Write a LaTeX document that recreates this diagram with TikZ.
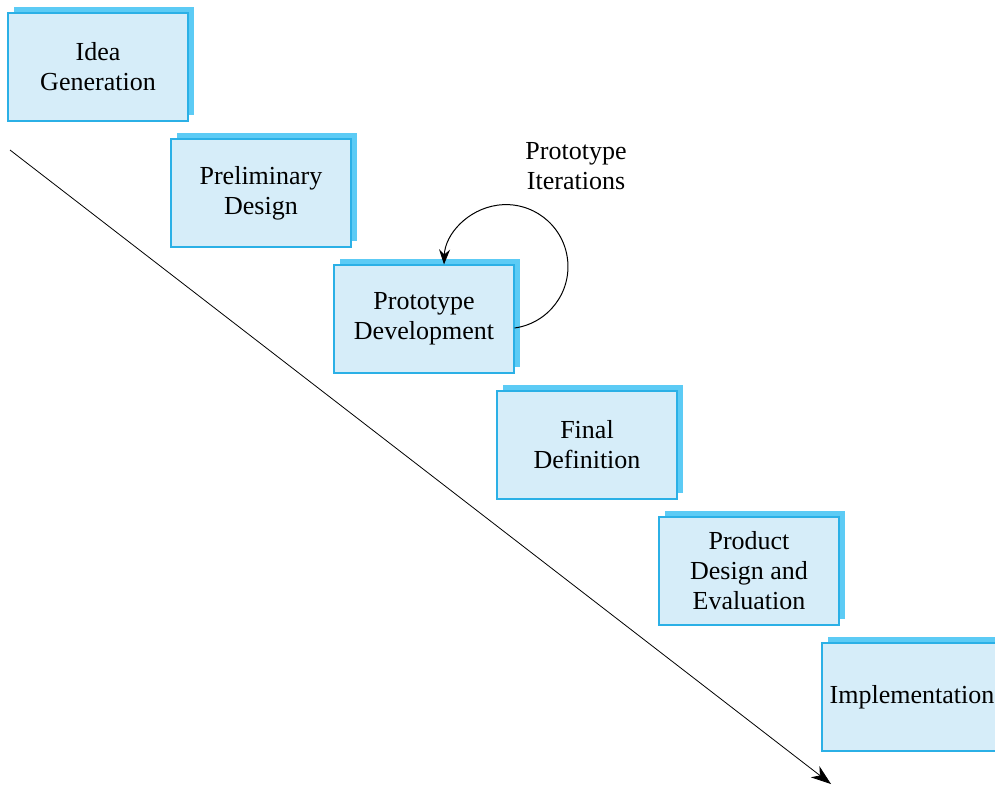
\documentclass[tikz,border=0pt]{standalone}
\usepackage{fontspec}
\setmainfont{Liberation Serif}
\usetikzlibrary{arrows.meta,shadows}
\definecolor{boxfill}{HTML}{D6EDF9}
\definecolor{boxline}{HTML}{2BB0E6}
\definecolor{boxshadow}{HTML}{5CCBF5}
\tikzset{
  stagebox/.style={draw=boxline, line width=1.2pt, fill=boxfill,
    minimum width=180pt, minimum height=108pt, inner sep=0pt,
    align=center, font=\fontsize{26}{30}\selectfont,
    drop shadow={shadow xshift=6pt, shadow yshift=6pt, fill=boxshadow, opacity=1}},
  flow/.style={line width=0.8pt, -{Stealth[length=20pt,width=14pt,inset=6pt]}},
  loop/.style={line width=1pt, -{Stealth[length=15pt,width=11pt,inset=5pt]}}
}
\begin{document}
\begin{tikzpicture}[x=1pt,y=-1pt]
\useasboundingbox (0,0) rectangle (995,785);
\clip (0,0) rectangle (995,785);
\node[stagebox] (idea) at (98,67) {Idea\\Generation};
\node[stagebox] (prelim) at (261,193) {Preliminary\\Design};
\node[stagebox] (proto) at (424,319) {Prototype\\Development};
\node[stagebox] (final) at (587,445) {Final\\Definition};
\node[stagebox] (product) at (749,571) {Product\\Design and\\Evaluation};
\node[stagebox] (impl) at (912,697) {Implementation};
\node[align=center, font=\fontsize{26}{30}\selectfont] (iter) at (576,166) {Prototype\\Iterations};
\coordinate (start) at (10,150);
\coordinate (end) at (831,784);
\draw[flow] (start) -- (end);
\draw[loop] ([yshift=-9pt]proto.east) arc[start angle=-82, end angle=178, radius=62pt];
\end{tikzpicture}
\end{document}
